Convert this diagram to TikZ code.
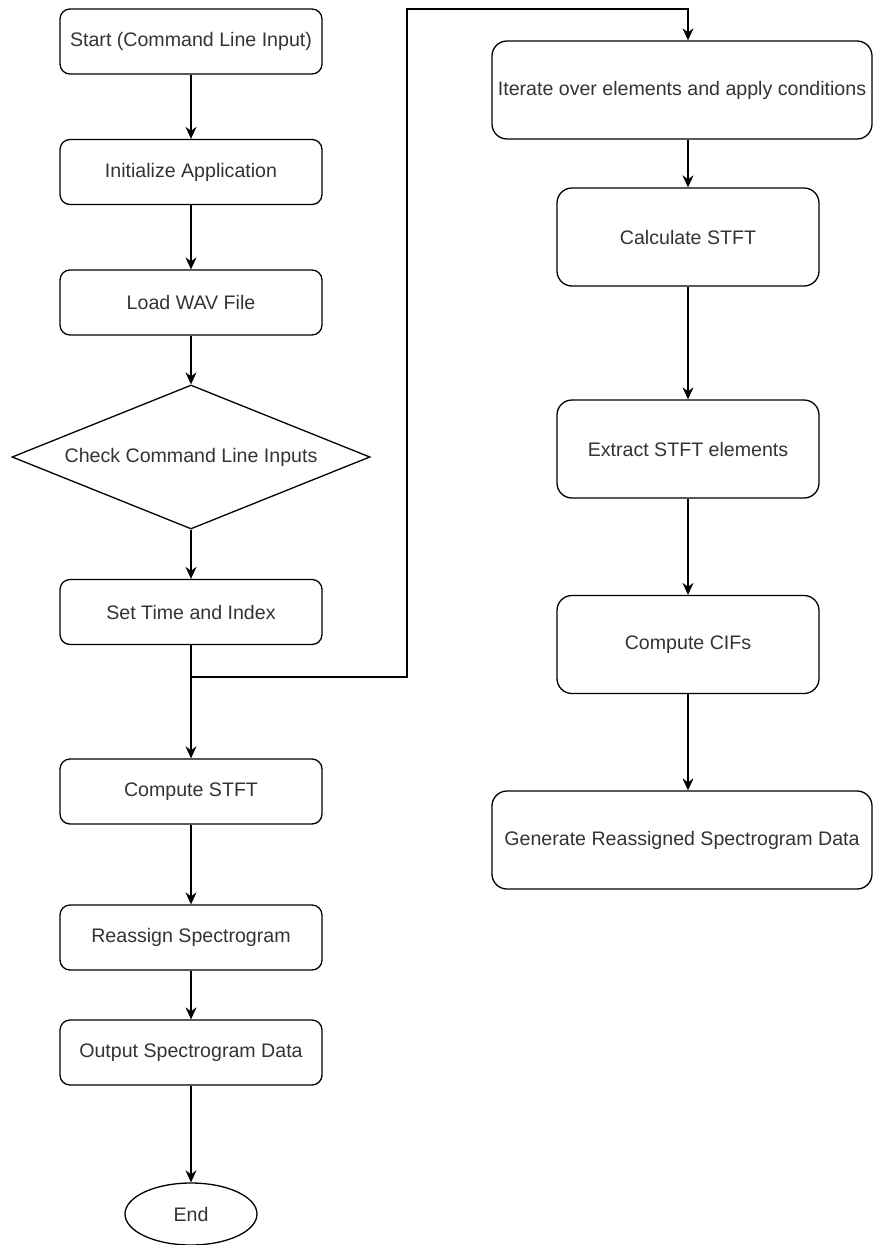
\documentclass[tikz,border=0pt]{standalone}
\usepackage{fontspec}
\setmainfont{Liberation Sans}
\usetikzlibrary{shapes.geometric,arrows.meta}

\tikzset{
procbox/.style={draw, rounded corners=10pt, line width=1.3pt, minimum width=262pt,
  minimum height=65pt, inner sep=0pt, font=\fontsize{19.6}{23}\selectfont, text=black!80},
tallbox/.style={procbox, rounded corners=15pt, minimum height=98pt},
decision/.style={draw, diamond, aspect=2.5, line width=1.3pt, minimum width=358pt,
  minimum height=144pt, inner sep=0pt, font=\fontsize{19.6}{23}\selectfont, text=black!80},
endcap/.style={draw, ellipse, line width=1.3pt, minimum width=132pt, minimum height=62pt,
  inner sep=0pt, font=\fontsize{19.6}{23}\selectfont, text=black!80},
flow/.style={-{Stealth[length=12pt,width=11pt,inset=4pt]}, line width=1.3pt},
}

\begin{document}
\begin{tikzpicture}[x=1pt,y=-1pt]
\useasboundingbox (0,0) rectangle (873,1245);
\clip (0,0) rectangle (873,1245);
%% main column;
\node[procbox] (start) at (191,41.5) {Start (Command Line Input)};
\node[procbox] (init) at (191,172) {Initialize Application};
\node[procbox] (load) at (191,302.5) {Load WAV File};
\node[decision] (check) at (191,457) {Check Command Line Inputs};
\node[procbox] (stime) at (191,612) {Set Time and Index};
\node[procbox] (cstft) at (191,791.5) {Compute STFT};
\node[procbox] (reassign) at (191,937.5) {Reassign Spectrogram};
\node[procbox] (output) at (191,1052.5) {Output Spectrogram Data};
\node[endcap] (finish) at (191,1214) {End};
%% side column;
\node[tallbox, minimum width=380pt] (iter) at (682,90) {Iterate over elements and apply conditions};
\node[tallbox] (calc) at (688,237) {Calculate STFT};
\node[tallbox] (extract) at (688,449) {Extract STFT elements};
\node[tallbox] (cifs) at (688,644.5) {Compute CIFs};
\node[tallbox, minimum width=380pt] (gen) at (682,840) {Generate Reassigned Spectrogram Data};
%% connectors;
\draw[flow] (start) -- (init);
\draw[flow] (init) -- (load);
\draw[flow] (load) -- (check);
\draw[flow] (check) -- (stime);
\draw[flow] (stime) -- (cstft);
\draw[flow] (cstft) -- (reassign);
\draw[flow] (reassign) -- (output);
\draw[flow] (output) -- (finish);
\coordinate (split) at (191,677);
\coordinate (bend) at (407,9);
\draw[flow] (split) -| (bend) -| (iter.north -| calc.north);
\draw[flow] (iter.south -| calc.north) -- (calc);
\draw[flow] (calc) -- (extract);
\draw[flow] (extract) -- (cifs);
\draw[flow] (cifs) -- (cifs |- gen.north);
\end{tikzpicture}
\end{document}
